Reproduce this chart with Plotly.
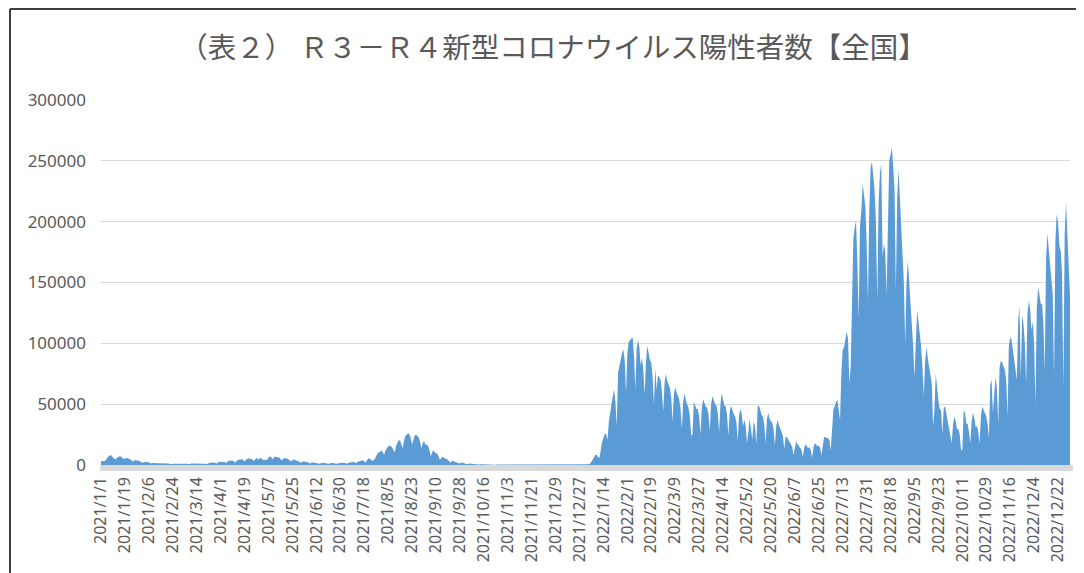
import pandas as pd
import plotly.graph_objects as go

# ---- daily positive cases ----
jan21 = [3243,3058,3128,3321,4910,6001,7539, 7949,7788,6097,4877,4536,5874,6605, 7130,7012,5757,4908,5316,5668,5653, 5039,4715,3989,2764,3853,3962,3526, 3469,3332,2674]
feb21 = [1789,2324,2631,2576,2284,2280,1567, 1222,1569,1715,1580,1358,1351,1225, 1044,1308,1529,1307,1300,1247,1172, 713,1014,1036,1055,1038,1081,987]
mar21 = [688,972,1229,1161,1148,1066,1063, 600,1127,1312,1296,1327,1279,1300, 878,1164,1509,1524,1465,1492,1124, 811,1520,1919,1964,1910,2081,1774, 1183,1998,2746]
apr21 = [2613,2759,2760,2475,1570,2656,3453, 3445,3474,3697,2779,1917,3453,4302, 4570,4532,4801,4093,2670,4336,5287, 5498,5116,5119,4605,3307,4471,5791, 4678,4677]
may21 = [5913,5023,4131,4374,4179,4416,6054, 7244,6480,4776,6236,7057,6864,6260, 6423,5215,3678,5229,5664,5672,5223, 4848,4055,2634,4058,4440,4130,3615, 3375,2860,1791]
jun21 = [2644,2974,2820,2571,2598,2008,1330, 1967,2284,1950,1941,1719,1387,934, 1430,1698,1747,1543,1569,1312,875, 1407,1743,1688,1621,1624,1346,977, 1554,1754]
jul21 = [1822,1768,1834,1493,970,1622,2190, 2247,2213,2479,1988,1498,2384,3193, 3418,3422,3879,3101,1949,3760,5400, 5395,4225,3574,4130,4692,7629,9576, 10694,10743,12341]
aug21 = [10167,8392,12016,14207,15263,15753,15578, 14472,12075,10310,15812,18889,20366,20151, 17488,13844,19955,23917,25145,25876,25492, 22285,16841,21570,24316,24956,24060,22733, 19290,13566,17747]
sep21 = [20022,16731,16749,15733,12940,7446,10405, 12392,10395,9794,9191,7230,4171,6011, 6809,5726,5604,5022,4154,3300,1790, 3199,3785,2724,2624,1964,1148,1585, 1978,1986]
oct21 = [1442,1231,1088,615,1136,1127,864, 774,767,605,364,608,668,621, 582,508,428,233,373,390,380, 345,320,266,154,323,318,279, 269,281,255]
nov21 = [86,164,229,153,161,179,162, 111,155,209,200,191,165,155, 78,120,175,127,151,150,130, 50,92,162,136,121,120,91, 77,115]
dec21 = [126,136,118,130,131,87,140, 148,140,148,147,112,74,158, 170,178,176,149,146,100,191, 263,265,289,300,314,218,416, 506,496,533]

jan22 = [534,552,782,1265,2638,4475,6214, 8480,8249,6438,5971,13244,18860,21943, 25742,25633,20283,35000,45000,50000,56000, 62000,52000,32000,76000,82000,86000,92000, 95000,86000,60000]
feb22 = [92000,101000,103000,104000,104500,90000,62000, 96000,103000,97000,82000,88000,78000,58000, 85000,98000,92000,86000,84000,72000,50000, 80000,62000,74000,72000,70000,60000,44000]
mar22 = [68000,75000,69000,65000,63000,55000,36000, 58000,64000,60000,56000,54000,46000,30000, 52000,59000,53000,49000,47000,40000,24000, 25000,52000,49000,46000,46000,40000,25000, 47000,54000,50000]
apr22 = [48000,47000,42000,28000,50000,56500,53000, 50000,49000,43000,27000,50000,59000,54000, 49000,48000,41000,24000,44000,48600,44000, 42000,40000,35000,20000,40000,46700,42000, 32000,37000]
may22 = [32000,18000,27000,38500,29000,21000,36000, 32000,17000,48000,49000,44000,41000,40000, 33000,18000,38000,42800,38000,36000,35000, 29000,16000,32000,37000,33000,30000,28000, 24000,13000,23000]
jun22 = [23000,21000,19000,18000,15000,8000,16000, 19600,17000,15500,15000,12500,6500,14000, 17000,15000,14000,14500,12000,6000,14500, 18000,16500,15500,16000,14000,8000,18000, 23000,23000]
jul22 = [22000,22500,20000,12000,35000,45800,48000, 52000,53500,45000,37000,76000,94500,97000, 103000,109500,104000,67000,80000,152000,186000, 195000,200500,169000,120000,196000,209000,231000, 220000,213000,183000]
aug22 = [135000,210000,245000,249000,236000,226000,200000, 135000,215000,240000,247500,171000,182000,175000, 140000,200000,250000,255000,261000,245000,226000, 143000,220000,243000,220000,198000,185000,150000, 100000,150000,168000]
sep22 = [152000,130000,118000,98000,72000,110000,127000, 118000,108000,97000,80000,56000,85000,97000, 88000,80000,73000,67000,32000,45000,75000, 62000,53000,46000,45000,25000,47000,48000, 42000,37000]
oct22 = [32000,27000,18000,33000,40000,36000,29000, 30000,25000,13000,12000,45000,43000,34000, 34000,27000,18000,36000,42600,39000,31000, 32000,27000,18000,40000,48000,45000,42600, 40000,34000,23000]
nov22 = [66000,70000,43000,62000,72600,63000,34000, 80000,86000,84000,80000,78000,70000,39600, 98000,105000,103000,95000,86000,82000,70000, 118000,130000,72000,123000,116000,100000,67000, 125000,135000]
dec22 = [128000,111000,118000,100000,50000,128000,146000, 140000,132000,133000,115000,78000,170000,190000, 178000,165000,157000,140000,72600,185000,206000, 200000,180000,176000,158000,64000,190000,216000, 190000,160000,138000]

months = [jan21, feb21, mar21, apr21, may21, jun21, jul21, aug21, sep21, oct21, nov21, dec21,
          jan22, feb22, mar22, apr22, may22, jun22, jul22, aug22, sep22, oct22, nov22, dec22]
cases = [v for m in months for v in m]

tick_labels = ["2021/1/1", "2021/1/19", "2021/2/6", "2021/2/24", "2021/3/14", "2021/4/1", "2021/4/19",
               "2021/5/7", "2021/5/25", "2021/6/12", "2021/6/30", "2021/7/18", "2021/8/5", "2021/8/23",
               "2021/9/10", "2021/9/28", "2021/10/16", "2021/11/3", "2021/11/21", "2021/12/9", "2021/12/27",
               "2022/1/14", "2022/2/1", "2022/2/19", "2022/3/9", "2022/3/27", "2022/4/14", "2022/5/2",
               "2022/5/20", "2022/6/7", "2022/6/25", "2022/7/13", "2022/7/31", "2022/8/18", "2022/9/5",
               "2022/9/23", "2022/10/11", "2022/10/29", "2022/11/16", "2022/12/4", "2022/12/22"]

title_text = "（表２） Ｒ３－Ｒ４新型コロナウイルス陽性者数【全国】"

dates = pd.date_range("2021-01-01", periods=len(cases), freq="D")
tick_vals = [pd.Timestamp(s.replace("/", "-")) for s in tick_labels]

BLUE = "#5B9BD5"
GRAY_TXT = "#595959"
GRID = "#D9D9D9"

fig = go.Figure()
fig.add_trace(go.Scatter(
    x=dates, y=cases, mode="lines", fill="tozeroy",
    line=dict(width=0, color=BLUE), fillcolor=BLUE,
    hoverinfo="x+y", showlegend=False,
))

# the page body has an 8px default margin: work in reference pixels, shift by OFF
OFF = 8
W, H = 1084 - OFF, 573 - OFF
L, R, T, B = 101 - OFF, 1070 - OFF, 100 - OFF, 465 - OFF
pw, ph = R - L, B - T

def px_x(p):
    return (p - OFF - L) / pw

def px_y(p):
    return (B - (p - OFF)) / ph

shapes = [
    # grey floor under the zero line
    dict(type="rect", xref="paper", yref="paper", x0=px_x(100), x1=px_x(1073),
         y0=px_y(471), y1=px_y(465), fillcolor=GRID, line=dict(width=0), layer="above"),
    # outer chart frame (top and left)
    dict(type="line", xref="paper", yref="paper", x0=px_x(10), x1=px_x(1084),
         y0=px_y(9), y1=px_y(9), line=dict(color="#404040", width=2)),
    dict(type="line", xref="paper", yref="paper", x0=px_x(10), x1=px_x(10),
         y0=px_y(9), y1=px_y(573), line=dict(color="#404040", width=2)),
]

fig.update_layout(
    width=W, height=H,
    margin=dict(l=L, r=W - R, t=T, b=H - B, pad=0),
    paper_bgcolor="white", plot_bgcolor="white",
    title=dict(text=title_text, xref="paper", x=px_x(553), xanchor="center",
               yref="container", y=1 - (48 - OFF) / H, yanchor="middle",
               font=dict(family="Noto Sans CJK JP", size=28.5, color=GRAY_TXT)),
    shapes=shapes,
    xaxis=dict(type="date", range=[dates[0], dates[-1]], tickmode="array",
               tickvals=tick_vals, ticktext=tick_labels, tickangle=-90,
               showgrid=False, zeroline=False, showline=False, ticks="",
               ticklabelstandoff=8,
               tickfont=dict(family="Noto Sans", size=16, color=GRAY_TXT)),
    yaxis=dict(range=[0, 300000], dtick=50000, tick0=0, tickformat="d",
               showgrid=True, gridcolor=GRID, gridwidth=1, zeroline=False,
               showline=False, ticks="", ticklabelstandoff=14,
               tickfont=dict(family="Noto Sans", size=17, color=GRAY_TXT)),
)

fig.write_html("out.html")
